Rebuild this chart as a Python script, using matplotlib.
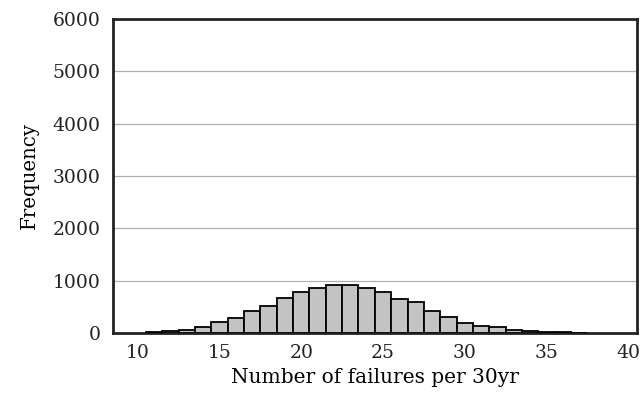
import numpy as np
import matplotlib
matplotlib.use("Agg")
import matplotlib.pyplot as plt

# failures per 30 years (bin centres) and counts
failures = [11, 12, 13, 14, 15, 16, 17, 18, 19, 20, 21, 22, 23, 24,
            25, 26, 27, 28, 29, 30, 31, 32, 33, 34, 35, 36, 37]
counts = [15, 32, 55, 110, 205, 290, 415, 512, 672, 781, 851, 915, 915, 864,
          787, 653, 589, 416, 307, 192, 141, 109, 51, 32, 19, 10, 5]
xticks = [10, 15, 20, 25, 30, 35, 40]
yticks = [0, 1000, 2000, 3000, 4000, 5000, 6000]

plt.rcParams['font.family'] = ['DejaVu Serif']

fig = plt.figure(figsize=(6.41, 3.94), dpi=100)
ax = fig.add_axes([0.176, 0.155, 0.818, 0.797])

ax.bar(failures, counts, width=1.0, color='#c3c3c3', edgecolor='black',
       linewidth=1.3, zorder=3)

for y in yticks[1:-1]:
    ax.axhline(y, color='#b0b0b0', linewidth=0.9, zorder=1)

ax.set_xlim(8.47, 40.55)
ax.set_ylim(0, 6000)
ax.set_xticks(xticks)
ax.set_yticks(yticks)
ax.tick_params(axis='both', length=0, labelsize=13.5, colors='#222222')
ax.tick_params(axis='x', pad=8)
ax.tick_params(axis='y', pad=9)
for s in ax.spines.values():
    s.set_linewidth(2)
    s.set_color('#222222')

ax.set_xlabel("Number of failures per 30yr", fontsize=14.5, labelpad=4)
ax.set_ylabel("Frequency", fontsize=14.2, labelpad=10)

fig.savefig("out.png", dpi=100)
